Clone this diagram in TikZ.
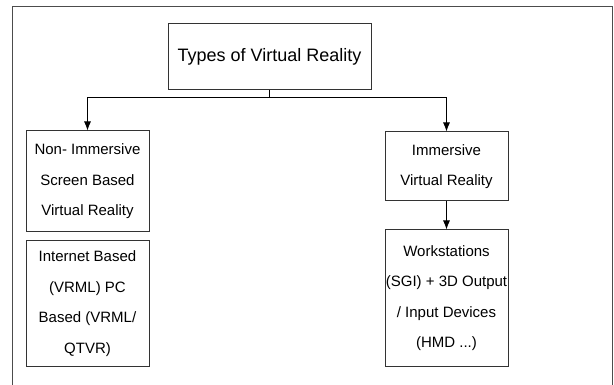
\documentclass[tikz,border=0pt]{standalone}
\usepackage{fontspec}
\setmainfont{Liberation Sans}
\usetikzlibrary{arrows.meta}

\begin{document}
\begin{tikzpicture}[x=1pt, y=-1pt, box/.style={draw=black!80, line width=1pt, align=center, inner sep=0pt, minimum width=123pt, font=\fontsize{15}{30.5}\selectfont}, arr/.style={line width=.9pt, -{Latex[length=9pt, width=7pt]}}]
		\useasboundingbox(0, 0) rectangle (614, 385);
		\draw[line width=1pt, black!70](12.5, 385)--(12.5, 6.5)--(612, 6.5)--(612, 385);
		\node[box, minimum width=203pt, minimum height=66pt, font=\fontsize{18}{22}\selectfont](types) at(269.5, 57){Types of Virtual Reality};
		\node[box, minimum height=101pt](nonimm) at(87.5, 181.5){Non- Immersive\\Screen Based\\Virtual Reality};
		\node[box, minimum height=125pt](internet) at(87.5, 303.5){Internet Based\\(VRML) PC\\Based (VRML/\\QTVR)};
		\node[box, minimum height=69pt](imm) at(446.5, 166.5){Immersive\\Virtual Reality};
		\node[box, minimum height=136pt](work) at(446.5, 298){Workstations\\(SGI) + 3D Output\\/ Input Devices\\(HMD ...)};
		\draw[arr](types.south)--++(0, 7)-|(nonimm.north);
		\draw[arr](types.south)--++(0, 7)-|(imm.north);
		\draw[arr](imm.south)--(work.north);
	\end{tikzpicture}
\end{document}
